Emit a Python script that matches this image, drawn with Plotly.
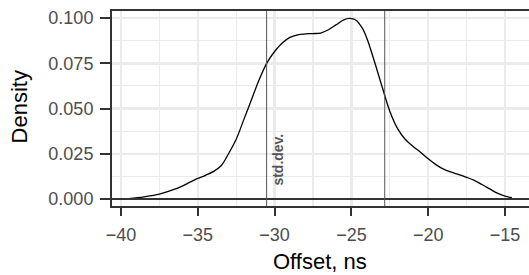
import plotly.graph_objects as go

# Density estimate
offset_ns = [-39.5, -38.5, -37.5, -36.5, -35.5, -35.0, -34.5, -34.0, -33.5, -33.0,
             -32.5, -32.0, -31.5, -31.0, -30.5, -30.0, -29.5, -29.0, -28.5, -28.0,
             -27.5, -27.0, -26.5, -26.0, -25.5, -25.1, -24.7, -24.3, -24.0, -23.5,
             -23.0, -22.5, -22.0, -21.5, -21.0, -20.5, -20.0, -19.5, -19.0, -18.5,
             -18.0, -17.5, -17.0, -16.5, -16.0, -15.5, -15.0, -14.55]
density = [0.0002, 0.0012, 0.0027, 0.0054, 0.0093, 0.0114, 0.0131, 0.0151, 0.0182, 0.0250,
           0.0330, 0.0440, 0.0550, 0.0660, 0.0752, 0.0815, 0.0862, 0.0893, 0.0907, 0.0912,
           0.0914, 0.0917, 0.0935, 0.0962, 0.0990, 0.0998, 0.0988, 0.0945, 0.0890, 0.0760,
           0.0620, 0.0485, 0.0390, 0.0330, 0.0292, 0.0258, 0.0222, 0.0190, 0.0165, 0.0148,
           0.0135, 0.0120, 0.0103, 0.0080, 0.0056, 0.0032, 0.0016, 0.0007]

sd_lines = [-30.52, -22.83]
x_ticks = [-40, -35, -30, -25, -20, -15]
x_tick_text = ["\u221240", "\u221235", "\u221230", "\u221225", "\u221220", "\u221215"]
y_ticks = [0.0, 0.025, 0.05, 0.075, 0.1]
y_tick_text = ["0.000", "0.025", "0.050", "0.075", "0.100"]

FONT = "Liberation Sans, Arial, Helvetica, sans-serif"
GRID = "#EBEBEB"
DARK = "#333333"

fig = go.Figure()

fig.add_trace(go.Scatter(
    x=offset_ns, y=density, mode="lines",
    line=dict(color="black", width=1.3, shape="spline", smoothing=1.0),
    hoverinfo="skip", showlegend=False))

# baseline
fig.add_hline(y=0, line=dict(color=DARK, width=2))

for v in sd_lines:
    fig.add_vline(x=v, line=dict(color="#555555", width=1))

fig.add_annotation(x=-29.75, y=0.022, text="<b>std.dev.</b>", textangle=-90,
                   showarrow=False, xanchor="center", yanchor="middle",
                   font=dict(family=FONT, size=14, color="#555555"))

# panel border (right side falls outside the canvas)
fig.add_shape(type="rect", xref="paper", yref="paper", x0=0, x1=1.01, y0=0, y1=1,
              line=dict(color=DARK, width=2), fillcolor="rgba(0,0,0,0)", layer="above")

# axis titles
fig.add_annotation(xref="paper", yref="paper", x=0.50, y=-0.279, text="Offset, ns",
                   showarrow=False, xanchor="center", yanchor="middle",
                   font=dict(family=FONT, size=22, color="black"))
fig.add_annotation(xref="paper", yref="paper", x=-0.218, y=0.51, text="Density",
                   textangle=-90, showarrow=False, xanchor="center", yanchor="middle",
                   font=dict(family=FONT, size=22, color="black"))

fig.update_xaxes(
    range=[-40.651, -13.4375], tickvals=x_ticks, ticktext=x_tick_text,
    showgrid=True, gridcolor=GRID, gridwidth=2.5, zeroline=False,
    minor=dict(tick0=-37.5, dtick=5, showgrid=True, gridcolor=GRID, gridwidth=1.2, ticks=""),
    ticks="outside", ticklen=8, tickwidth=2, tickcolor=DARK, ticklabelstandoff=3,
    tickfont=dict(family=FONT, size=18, color="#4D4D4D"),
    showline=False, automargin=False)

fig.update_yaxes(
    range=[-0.00442, 0.10442], tickvals=y_ticks, ticktext=y_tick_text,
    showgrid=True, gridcolor=GRID, gridwidth=2.5, zeroline=False,
    minor=dict(tick0=0.0125, dtick=0.025, showgrid=True, gridcolor=GRID, gridwidth=1.2, ticks=""),
    ticks="outside", ticklen=10, tickwidth=2, tickcolor=DARK, ticklabelstandoff=3,
    tickfont=dict(family=FONT, size=18, color="#4D4D4D"),
    showline=False, automargin=False)

fig.update_layout(
    width=529, height=275, autosize=False,
    margin=dict(l=111, r=0, t=10, b=68),
    paper_bgcolor="white", plot_bgcolor="white",
    showlegend=False)

fig.write_html("out.html", config={"displayModeBar": False, "staticPlot": True},
               post_script="document.body.style.margin='0';document.body.style.overflow='hidden';")
